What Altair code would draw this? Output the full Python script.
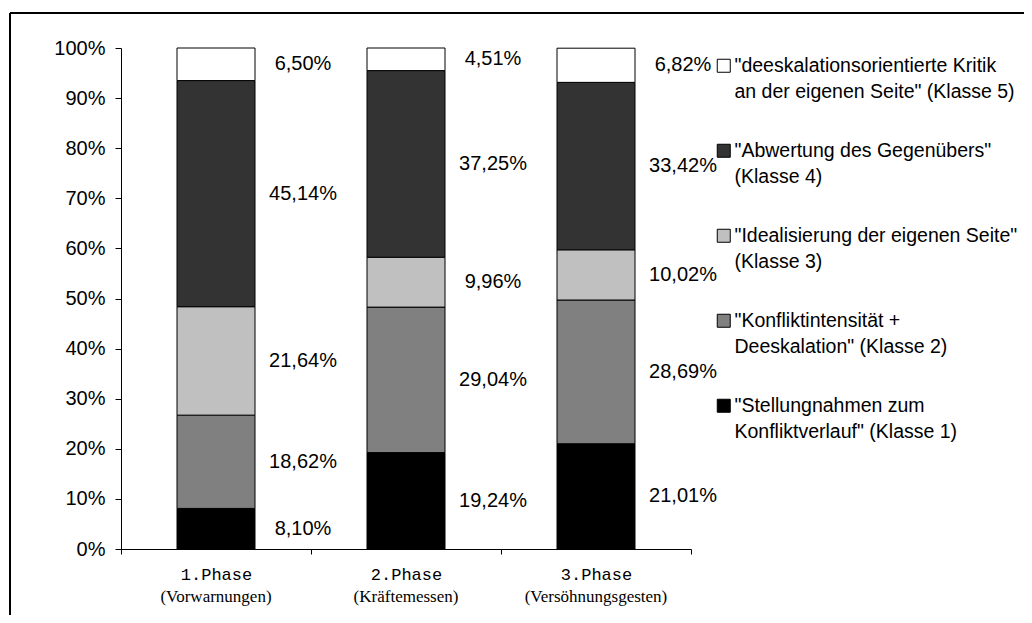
import altair as alt
import pandas as pd

phases = ["1.Phase|(Vorwarnungen)", "2.Phase|(Kräftemessen)", "3.Phase|(Versöhnungsgesten)"]
classes = [
    '"Stellungnahmen zum|Konfliktverlauf" (Klasse 1)',
    '"Konfliktintensität +|Deeskalation" (Klasse 2)',
    '"Idealisierung der eigenen Seite"|(Klasse 3)',
    '"Abwertung des Gegenübers"|(Klasse 4)',
    '"deeskalationsorientierte Kritik|an der eigenen Seite" (Klasse 5)',
]
klasse1 = [8.10, 19.24, 21.01]
klasse2 = [18.62, 29.04, 28.69]
klasse3 = [21.64, 9.96, 10.02]
klasse4 = [45.14, 37.25, 33.42]
klasse5 = [6.50, 4.51, 6.82]
series = [klasse1, klasse2, klasse3, klasse4, klasse5]
colors = ["#000000", "#808080", "#C0C0C0", "#333333", "#FFFFFF"]
y_ticks = list(range(0, 101, 10))

rows = []
for k, (cls, vals) in enumerate(zip(classes, series)):
    for p, v in zip(phases, vals):
        rows.append({"phase": p, "cls": cls, "k": k + 1, "value": v})
df = pd.DataFrame(rows)

FONT = "Liberation Sans"

base = alt.Chart(df)

bars = base.mark_bar(size=78, stroke="black", strokeWidth=1).encode(
    x=alt.X(
        "phase:N",
        sort=phases,
        scale=alt.Scale(paddingInner=0, paddingOuter=0),
        axis=alt.Axis(
            title=None,
            orient="bottom",
            labelAngle=0,
            tickBand="extent",
            labelExpr="split(datum.label, '|')[0]",
            labelFont="Liberation Mono",
            labelFontSize=17,
            labelPadding=12,
            labelColor="black",
            tickSize=5,
            tickColor="black",
            domainColor="black",
            grid=False,
        ),
    ),
    y=alt.Y(
        "value:Q",
        stack="zero",
        scale=alt.Scale(domain=[0, 100], nice=False),
        axis=alt.Axis(
            title=None,
            values=y_ticks,
            labelExpr="datum.value + '%'",
            labelFont=FONT,
            labelFontSize=20,
            labelPadding=10,
            labelColor="black",
            tickSize=6,
            tickColor="black",
            domainColor="black",
            grid=False,
        ),
    ),
    order=alt.Order("k:Q", sort="ascending"),
    fill=alt.Fill(
        "cls:N",
        scale=alt.Scale(domain=classes[::-1], range=colors[::-1]),
        legend=alt.Legend(
            title=None,
            orient="none",
            legendX=593,
            legendY=8,
            padding=0,
            symbolType="square",
            symbolSize=169,
            symbolStrokeColor="black",
            symbolStrokeWidth=1,
            labelFont=FONT,
            labelFontSize=19.5,
            labelColor="black",
            labelLimit=400,
            labelOffset=1,
            rowPadding=38,
            labelBaseline="middle",
            labelExpr="split(datum.label, '|')",
        ),
    ),
)

labels = base.transform_window(
    cum="sum(value)", groupby=["phase"], sort=[alt.SortField("k")], frame=[None, 0]
).transform_calculate(
    mid="datum.cum - datum.value / 2",
    txt="replace(format(datum.value, '.2f'), '.', ',') + '%'",
).mark_text(
    align="center", baseline="middle", dx=87, font=FONT, fontSize=20, color="black"
).encode(
    x=alt.X(
        "phase:N",
        sort=phases,
        axis=alt.Axis(
            title=None,
            orient="bottom",
            labelAngle=0,
            labelExpr="split(datum.label, '|')[1]",
            labelFont="Liberation Serif",
            labelFontSize=17,
            labelPadding=39,
            labelColor="black",
            labelLimit=300,
            domain=False,
            ticks=False,
            grid=False,
        ),
    ),
    y=alt.Y("mid:Q"),
    text="txt:N",
)

frame_df = pd.DataFrame({"f": [0]})
top_rule = alt.Chart(frame_df).mark_rule(color="black", strokeWidth=2).encode(
    x=alt.value(-111), x2=alt.value(903), y=alt.value(-35)
)
left_rule = alt.Chart(frame_df).mark_rule(color="black", strokeWidth=2).encode(
    x=alt.value(-111), y=alt.value(-35), y2=alt.value(567)
)

chart = alt.layer(bars, labels, top_rule, left_rule).resolve_axis(
    x="independent"
).properties(
    width=570,
    height=501,
    autosize=alt.AutoSizeParams(type="none"),
    padding={"left": 113, "top": 40, "right": 333, "bottom": 66},
    background="white",
).configure(
    style={"guide-label": {"lineHeight": 26}}
).configure_view(stroke=None)

chart.save("out.html", embed_options={"renderer": "svg", "actions": False})
